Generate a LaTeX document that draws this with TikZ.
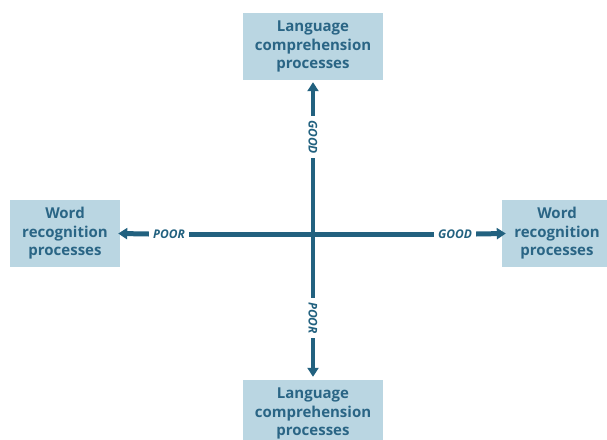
\documentclass[tikz,border=0pt]{standalone}
\usepackage{fontspec}
\setmainfont{Open Sans}
\usetikzlibrary{arrows.meta}
\definecolor{boxfill}{HTML}{BAD6E2}
\definecolor{axisblue}{HTML}{22617F}
\definecolor{txtblue}{HTML}{2A6585}
\begin{document}
\begin{tikzpicture}[x=1pt,y=-1pt,
  procbox/.style={fill=boxfill,text=txtblue,font=\fontsize{15}{18.5}\selectfont\bfseries,
    align=center,minimum height=67pt,inner sep=0pt},
  axislabel/.style={text=axisblue,font=\fontsize{12}{13}\selectfont\bfseries\itshape,inner xsep=4pt,inner ysep=1pt},
  axisline/.style={draw=axisblue,line width=4.5pt},
  axisarrow/.style={axisline,-{Triangle[length=9pt,width=11pt]}}]
\useasboundingbox (0,0) rectangle (607,439);
\node[procbox,minimum width=140pt] (top) at (313,46.5) {Language\\comprehension\\processes};
\node[procbox,minimum width=140pt] (bottom) at (313,413.5) {Language\\comprehension\\processes};
\node[procbox,minimum width=110pt] (left) at (65,233.5) {Word\\recognition\\processes};
\node[procbox,minimum width=110pt] (right) at (557,233.5) {Word\\recognition\\processes};
\node[axislabel] (poorL) at (169,234) {POOR};
\node[axislabel] (goodR) at (455,234) {GOOD};
\node[axislabel,rotate=-90] (goodT) at (313,137) {GOOD};
\node[axislabel,rotate=-90] (poorB) at (313,318) {POOR};
% axes
\draw[axisline,line width=5pt] (poorL.east) -- (goodR.west);
\draw[axisline,line width=4pt] (goodT.east) -- (poorB.west);
\draw[axisarrow,line width=5pt] (poorL.west) -- ([xshift=-2pt]left.east);
\draw[axisarrow,line width=5pt] (goodR.east) -- ([xshift=4pt]right.west);
\draw[axisarrow,line width=4pt] (goodT.west) -- ([yshift=-2pt]top.south);
\draw[axisarrow,line width=4pt] (poorB.east) -- ([yshift=3pt]bottom.north);
\end{tikzpicture}
\end{document}
